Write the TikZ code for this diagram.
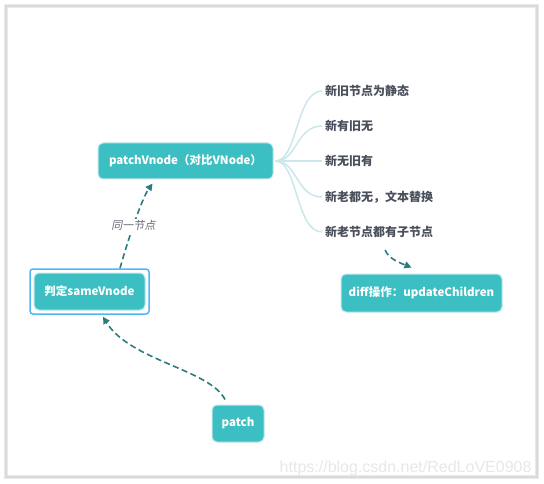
\documentclass[tikz,border=0pt]{standalone}
\usepackage{fontspec}
\setmainfont{Noto Sans CJK SC}
\newfontfamily\cjkslant[FakeSlant=0.2]{Noto Sans CJK SC}
\newfontfamily\wmfont{Liberation Sans}
\usetikzlibrary{calc,arrows.meta}
\definecolor{teal1}{HTML}{3BBFC2}
\definecolor{glow}{HTML}{BFE8EA}
\definecolor{arrowc}{HTML}{2C7B7E}
\definecolor{branchc}{HTML}{CBE7EC}
\definecolor{selblue}{HTML}{4CB8F8}
\definecolor{txtc}{HTML}{4A4F5C}
\definecolor{framec}{HTML}{DADADA}
\definecolor{wmc}{HTML}{E8E8E8}
\tikzset{
  tbox/.style={fill=teal1, draw=glow, line width=1pt, rounded corners=5pt,
    text=white, font=\fontsize{11.5}{13}\selectfont\bfseries, inner sep=0pt, align=center},
  leaf/.style={anchor=west, inner sep=3pt, text=txtc, font=\fontsize{12}{14}\selectfont\bfseries},
  branch/.style={draw=branchc, line width=1.5pt},
  dasharrow/.style={draw=arrowc, line width=1.6pt, dash pattern=on 6pt off 3.5pt,
    -{Triangle[length=7pt,width=7pt]}},
}
\begin{document}
\begin{tikzpicture}[x=1pt,y=-1pt]
\useasboundingbox (0,0) rectangle (544,484);
\fill[white] (0,0) rectangle (544,484);
% frame
\draw[framec!60, line width=4pt] (6,6) rectangle (537,477);
\draw[framec, line width=2pt] (6,6) rectangle (537,477);
% watermark
\node[text=wmc, font=\wmfont\fontsize{16}{18}\selectfont, anchor=base east] (wm) at (535,472) {https://blog.csdn.net/RedLoVE0908};
% main nodes
\node[tbox, minimum width=175pt, minimum height=36pt] (pv) at (185.5,161) {patchVnode（对比VNode）};
\node[draw=selblue, line width=1.5pt, rounded corners=3pt, minimum width=119pt, minimum height=45pt, inner sep=0pt] (svo) at (89.5,291.5) {};
\node[tbox, minimum width=111pt, minimum height=37pt] (sv) at (89.5,291.5) {判定sameVnode};
\node[tbox, minimum width=52pt, minimum height=37pt] (pa) at (238,423.5) {patch};
\node[tbox, minimum width=161pt, minimum height=38pt] (df) at (421.5,293) {diff操作：updateChildren};
% leaves
\node[leaf] (b1) at (322,91) {新旧节点为静态};
\node[leaf] (b2) at (322,126) {新有旧无};
\node[leaf] (b3) at (322,161) {新无旧有};
\node[leaf] (b4) at (322,197) {新老都无，文本替换};
\node[leaf] (b5) at (322,232) {新老节点都有子节点};
\foreach \b in {b1,b2,b3,b4,b5}{
  \draw[branch] ($(pv.east)+(2,0)$) .. controls ($(pv.east)+(24,0)$) and ($(\b.west)+(-26,0)$) .. (\b.west);
}
% arrows
\draw[dasharrow] ($(svo.north)+(30.5,0)$) .. controls +(9,-32) and +(-10,14) .. ($(pv.south)+(-33,4)$)
  node[pos=0.43, fill=white, inner sep=1.5pt, text=txtc!85, font=\cjkslant\fontsize{11}{12}\selectfont] (lbl) {同一节点};
\draw[dasharrow] ($(pa.north)+(-13,-5)$) .. controls +(-15,-30) and +(27,44) .. ($(svo.south)+(13.5,2)$);
\draw[dasharrow] ($(b5.south)+(6,9)$) .. controls +(3,9) and +(-10,-4) .. ($(df.north)+(-10,-6)$);
\end{tikzpicture}
\end{document}
